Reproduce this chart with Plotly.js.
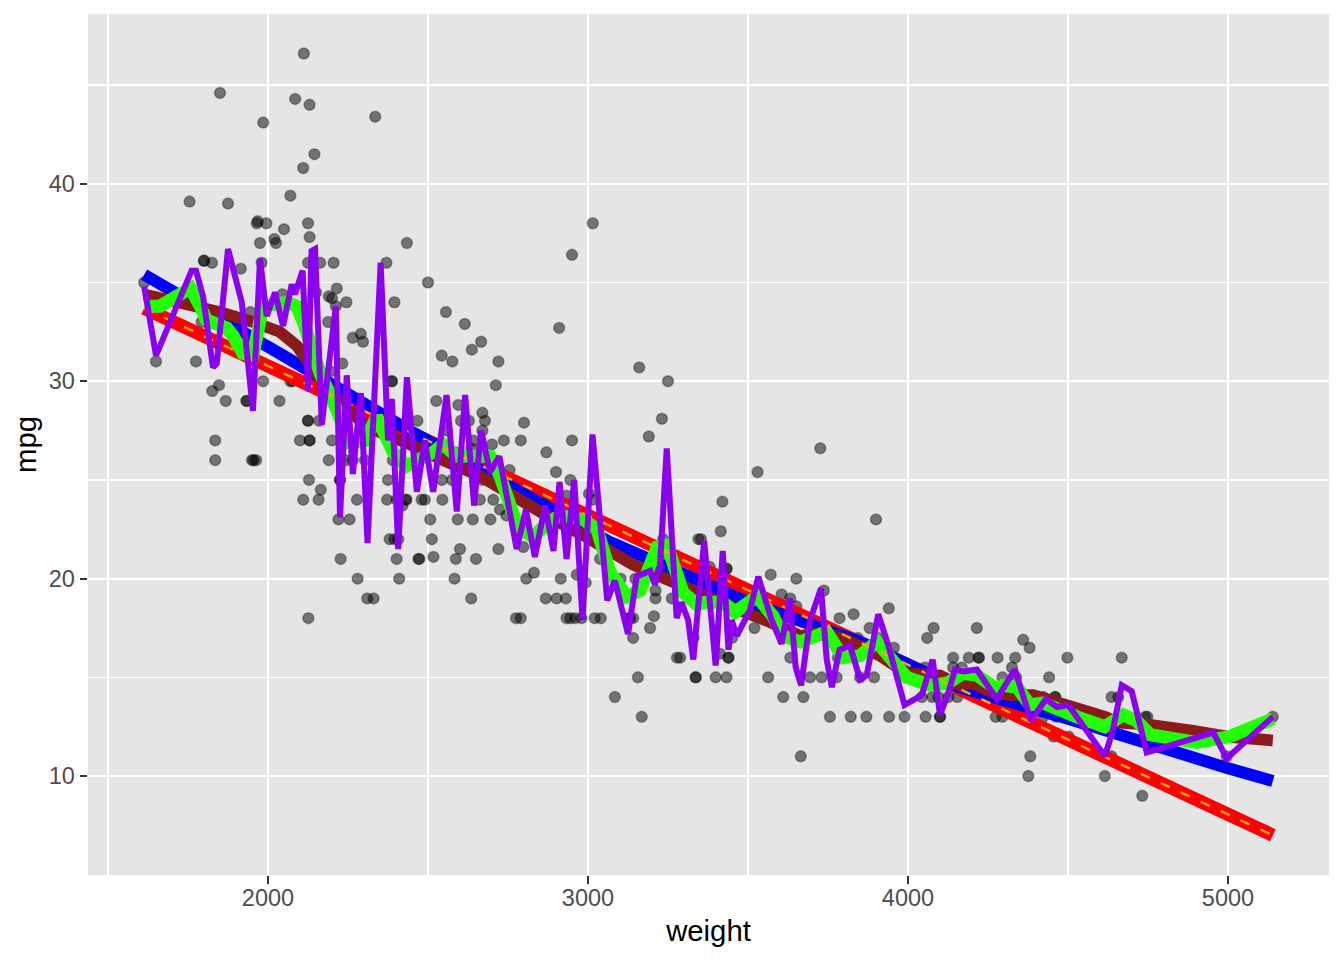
<!DOCTYPE html>
<html><head><meta charset="utf-8">
<script src="https://cdn.plot.ly/plotly-3.0.1.min.js"></script>
<style>html,body{margin:0;padding:0;background:#fff}#c{width:1344px;height:960px}</style>
</head><body><div id="c"></div>
<script>
const pointWeight=[2112,1850,2085,2130,2335,1985,2145,2110,2070,1755,1875,1968,1965,1995,2125,2050,2130,2020,2025,1975,2434,1800,1800,1825,1980,2125,2163,2205,2370,1915,1613,2215,2190,2200,2245,2395,2212,2150,2045,1980,1945,2188,2265,2290,2297,
1650,1775,1793,2232,2195,2387,2387,1985,2070,2076,1847,1826,1868,1933,1933,2036,2125,2125,2160,1835,2100,2130,2130,2200,1835,1950,1955,1963,2190,2245,2265,2303,2390,2128,2225,2225,2375,2165,2110,2158,2278,2372,2430,2420,2480,2402,2220,2255,2380,2395,2407,2227,2402,2470,2280,2410,2310,2330,2126,
3015,2950,2500,2556,2615,2910,2666,2637,2543,2576,2720,2712,3160,3250,2526,2595,2670,2467,2603,2628,2678,2800,3231,3190,2670,2560,2642,2737,2790,2950,2700,2635,2870,2900,2755,2945,2543,2575,2670,2433,2490,2545,2662,2704,3003,2933,3015,2725,2745,2862,2507,2593,2640,2695,2512,2600,2720,2798,2473,2517,2587,2650,2583,2831,2807,2915,2965,2993,3102,3148,3211,3211,3262,2635,2868,2902,2931,2775,2790,2933,2945,2960,2980,3021,3206,3126,3141,3345,3235,3085,3038,
3726,3530,3420,3900,3415,3353,3380,3433,3433,3571,3651,3605,3632,3737,3651,3940,3786,3830,3880,3520,4215,4080,4060,3843,3906,3956,3330,3450,3412,3439,3439,3288,3632,3781,4141,4190,4220,4141,4168,4053,3336,3399,3433,3563,3694,3730,3777,3850,3894,3610,3673,4043,4076,4095,4126,4154,3756,3821,3870,3941,3989,4055,4100,4100,3665,
4360,4380,4222,4280,4335,4498,4668,4325,4295,4441,4338,4385,4423,4460,4460,4636,4657,4210,4274,4295,4423,4463,4741,4748,5140,4502,4455,4636,4382,4996,4376,4615,4732,3084,3156,3168,3141,3194,3278,3337,3040,3131];
const pointMpg=[46.6,44.6,44.3,44,43.4,43.1,41.5,40.8,39.4,39.1,39,38.1,38,38,38,37.7,37.3,37.2,37,37,37,36.1,36.1,36,36,36,36,36,36,35.7,35,34.7,34.3,34.2,34,34,33.8,34.5,34.4,34.1,33.5,33,32.2,32.4,32,
31,31,33,30.9,30.5,30,30,30,30,30,29.8,29.5,29,29,29,29,28,28,28,27,27,27,27,27,26,26,26,26,26,26,26,26,26,25,25,25,25,24.5,24,24,24,24,24,23.7,24,24,23,23,22,22,22,21,21,21,20,20,19,19,18,
38,36.4,35,33.5,32.9,32.7,32,31.6,31.3,31,31,29.8,30.7,30,29,28.8,28.4,28,28,28,28,27.9,28.1,27.2,27.5,27.5,27,27,27,27,26.8,26.6,26.4,25.4,25.5,25,25,25,25,24,24,24,24,24,24.3,24.2,24,23.5,23.2,23.9,23,23,23,23,22,21.5,21.5,21.6,21,21.1,21,21,20,20.3,20,20,20.2,19.8,20,20,19.4,19,19,19,19,19,19,18,18,18,18,18,18,18,18.1,18,18,22,22,22.4,21,
26.6,25.4,23.9,23,22.4,22,20.6,20.5,20.5,20.2,20,19.2,19,19.4,18.6,18.5,18,18.2,17.5,17.5,17.5,17.5,17,17,17,16.5,17,17,16.2,16,16,16,16,16,16,16,16,15.5,15.5,15.5,15,15,15,15,15,15,15,15,15,14,14,14,14,14,14,14,13,13,13,13,13,13,13,13,11,
16.9,16.5,16,16,16,16,16,15.5,15,15,15,14,14,14,14,14,14,14,13,13,13,13,13,13,13,12,12,11,11,11,10,10,9,14,15,13,17,17.5,16,15,18,18];

const whiteWeight=[2300,2800,3300,3750];
const whiteMpg=[28.3,24.4,20.6,17.6];
const redWeight=[1613,5140];
const redMpg=[33.7,7.0];
const blueWeight=[1613,2058,2453,2800,3069,3141,3500,3850,4047,4162,4500,5000,5140];
const blueMpg=[35.4,31.2,27.4,24.3,21.85,21.35,18.8,16.8,15.3,14.5,12.9,10.4,9.75];
const brownWeight=[1613,1850,1953,2037,2090,2120,2160,2203,2308,2444,2547,2662,2756,2870,2985,3141,3328,3444,3569,3663,3736,3808,3912,3996,4100,4162,4203,4266,4319,4391,4516,4615,4663,4756,4891,4996,5140];
const brownMpg=[34.4,33.5,33,32.5,31.8,31.1,30.2,29.3,27.7,26.8,26,25.2,24.3,23.2,22.2,20.7,19.4,18.6,17.8,17.1,17.3,16.9,16.1,15.2,15.1,14.6,14.7,14.2,14.1,14.1,13.5,13,12.7,12.6,12.3,12,11.8];
const greenWeight=[1620,1662,1714,1758,1788,1808,1871,1891,1922,1953,1975,1985,2059,2090,2110,2163,2203,2256,2303,2340,2391,2433,2516,2547,2590,2653,2694,2725,2778,2828,2872,2912,2984,3028,3069,3122,3163,3216,3247,3297,3340,3366,3422,3459,3528,3578,3609,3663,3746,3797,3850,3903,3996,4069,4122,4172,4216,4278,4297,4341,4381,4422,4528,4615,4672,4714,4756,4903,5006,5140];
const greenMpg=[33.8,33.8,34.3,34.7,33.8,33.1,32.7,32.3,31.4,31.3,33.1,33.8,34,33.8,33,30.4,29,26.9,27,28.2,26.4,25.7,26.4,26.8,26.2,26.2,26.2,25.2,22.7,22.1,22.8,23.2,23,22.5,20.3,19.1,19.4,21.6,21.7,19.3,18.7,18.8,18.8,18.3,19.1,18.1,17.1,16.8,17.3,16,16.1,16.8,15,14.6,14.7,15.2,15.1,14.4,14.6,14.5,13.6,13.7,13,12.5,13.1,12.8,12.1,11.7,12,12.9];
const purpleWeight=[1613,1650,1761,1775,1797,1828,1840,1875,1918,1953,1975,1996,2022,2047,2074,2084,2108,2125,2136,2147,2168,2212,2225,2246,2265,2290,2311,2352,2375,2387,2407,2434,2465,2490,2516,2558,2590,2616,2644,2666,2694,2723,2777,2806,2834,2866,2892,2911,2933,2957,2983,3014,3060,3084,3125,3152,3194,3209,3225,3246,3277,3292,3313,3329,3363,3399,3421,3439,3449,3465,3506,3532,3574,3605,3631,3649,3666,3694,3728,3746,3762,3786,3819,3850,3871,3907,3939,3989,4043,4077,4100,4126,4147,4173,4215,4277,4334,4384,4431,4465,4501,4615,4640,4668,4699,4746,4954,4996,5140];
const purpleMpg=[34.8,31.3,35.6,35.6,34.3,30.7,30.9,36.7,34,28.5,36.2,33.3,34.5,32.8,34.9,34.4,35.6,29.5,36.6,36.7,27.8,33.8,23.1,30.3,25.3,29.4,21.8,36,27,29.1,21.5,30.2,24.4,27,24.4,29.3,23.4,29.3,23.7,27.5,25.4,26.2,21.5,23.5,21.1,23.7,21.4,24.9,21,25,17.9,27.3,18.9,19.9,17.2,20.1,20.4,19.7,20.6,26.6,18,18.8,17.9,15.9,21.9,15.6,21.4,16.4,17.9,17.1,18.4,20.1,17.9,16.7,19,15.5,14.6,17.9,19.5,15.9,14.5,16.4,16.6,14.9,15.1,18.2,16.6,13.6,14.1,15.9,13.1,14.2,15.4,15.3,15.4,13.9,15.4,12.8,13.9,13.5,13.6,11,12.3,14.6,14.3,11.2,12.2,10.9,13];

const xTickVals=[2000,3000,4000,5000];
const xTickText=['2000','3000','4000','5000'];
const yTickVals=[10,20,30,40];
const yTickText=['10','20','30','40'];

const line=(x,y,color,width,dash)=>({x,y,type:'scatter',mode:'lines',hoverinfo:'skip',
  line:{color,width,dash:dash||'solid',simplify:false}});
const traces=[
  {x:pointWeight,y:pointMpg,type:'scatter',mode:'markers',hoverinfo:'skip',
   marker:{size:11,color:'rgba(0,0,0,0.5)',line:{width:1.5,color:'rgba(0,0,0,0.3)'}}},
  line(whiteWeight,whiteMpg,'#FFFFFF',8),
  line(redWeight,redMpg,'#FF0000',13.3),
  line(blueWeight,blueMpg,'#0000FF',12),
  line(brownWeight,brownMpg,'#8B1A1A',11.7),
  line(greenWeight,greenMpg,'#22FF00',13),
  line(redWeight,redMpg,'#FFA500',2.4,'10px,12px'),
  line(purpleWeight,purpleMpg,'#8B00EE',6)
];
const axisFont={family:'"Liberation Sans", Arial, sans-serif',size:29.3,color:'#000'};
const tickFont={family:'"Liberation Sans", Arial, sans-serif',size:23.5,color:'#4D4D4D'};
const layout={
  width:1344,height:960,showlegend:false,
  paper_bgcolor:'#FFFFFF',plot_bgcolor:'#E5E5E5',
  margin:{l:88,r:15,t:14,b:85,pad:0},
  xaxis:{range:[1437.5,5315.6],tickmode:'array',tickvals:xTickVals,ticktext:xTickText,
    ticks:'outside',ticklen:7.5,tickwidth:2.3,tickcolor:'#333333',tickfont:tickFont,ticklabelstandoff:-6,
    showgrid:true,gridcolor:'#FFFFFF',gridwidth:2.3,zeroline:false,showline:false,automargin:false,
    minor:{tickmode:'array',tickvals:[1500,2500,3500,4500],showgrid:true,gridcolor:'#FFFFFF',gridwidth:1.2,ticks:''},
    title:{text:'weight',font:axisFont,standoff:10}},
  yaxis:{range:[4.99,48.6],tickmode:'array',tickvals:yTickVals,ticktext:yTickText,
    ticks:'outside',ticklen:7.5,tickwidth:2.3,tickcolor:'#333333',tickfont:tickFont,
    showgrid:true,gridcolor:'#FFFFFF',gridwidth:2.3,zeroline:false,showline:false,automargin:false,
    minor:{tickmode:'array',tickvals:[5,15,25,35,45],showgrid:true,gridcolor:'#FFFFFF',gridwidth:1.2,ticks:''},
    title:{text:'mpg',font:axisFont,standoff:3}}
};
Plotly.newPlot('c',traces,layout,{displayModeBar:false,staticPlot:true});
</script></body></html>
